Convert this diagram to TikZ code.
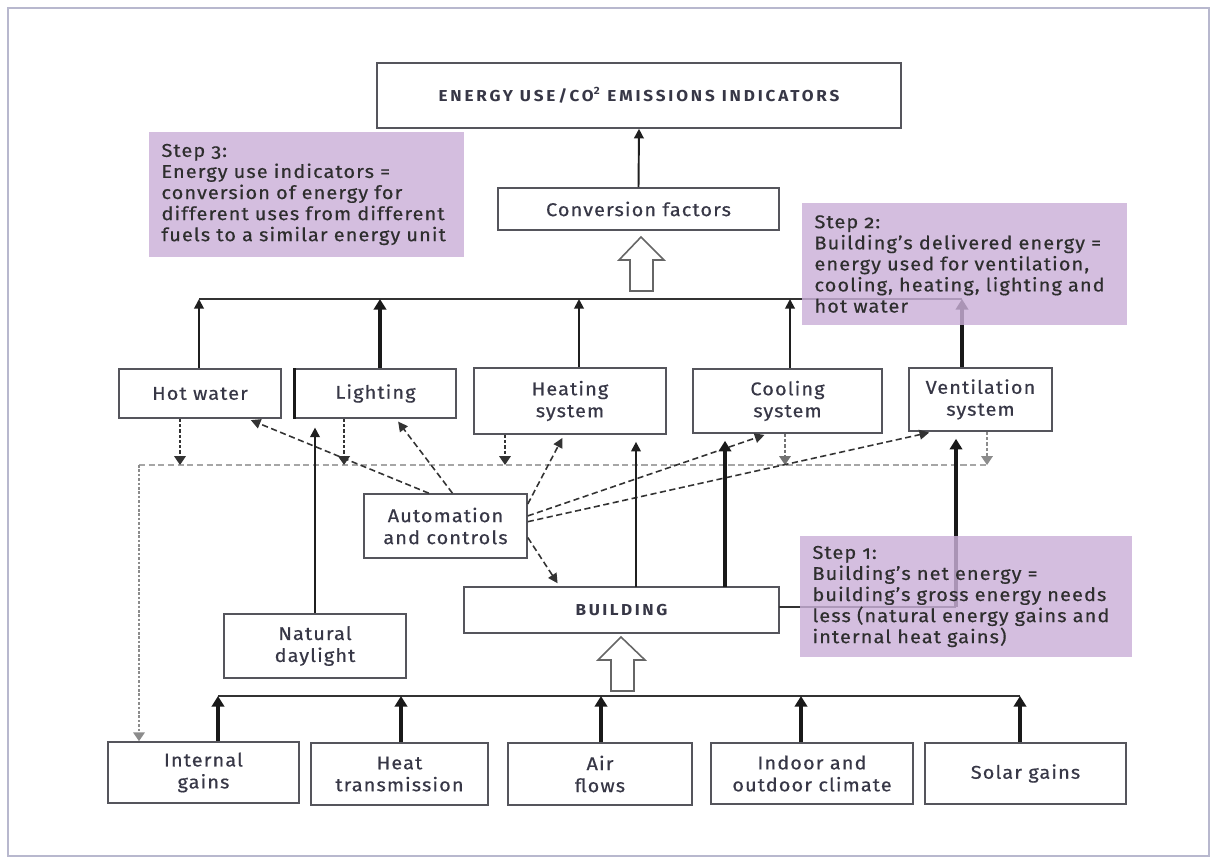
\documentclass[tikz,border=0pt]{standalone}
\usepackage{fontspec}
\setmainfont{Fira Sans}[LetterSpace=6,FakeStretch=1.08,UprightFeatures={FakeBold=0.5}]
\usetikzlibrary{arrows.meta}
\definecolor{stepc}{RGB}{202,176,216}
\definecolor{boxline}{RGB}{85,85,92}
\definecolor{txt}{RGB}{55,55,70}
\definecolor{framec}{RGB}{184,184,206}
\newcommand\boxnode[7][]{\node[box,#1,minimum width={(#5-#3)*0.02cm},minimum height={(#6-#4)*0.02cm}] (#2) at ({(#3+#5)/2},{(#4+#6)/2}) {#7};}
\newcommand\stepnode[6]{\node[stepbox,minimum width={(#4-#2)*0.02cm},minimum height={(#5-#3)*0.02cm},text width={(#4-#2)*0.02cm-0.5cm}] (#1) at ({(#2+#4)/2},{(#3+#5)/2}) {#6};}
\begin{document}
\begin{tikzpicture}[x=0.02cm,y=-0.02cm,
  box/.style={draw=boxline,line width=0.9pt,fill=white,inner sep=1pt,align=center,text=txt,font=\fontsize{10.5}{12.5}\selectfont},
  stepbox/.style={fill=stepc,fill opacity=0.82,text opacity=1,inner xsep=0.25cm,inner ysep=0pt,align=left,text=black!82,font=\fontsize{10.5}{12}\selectfont\addfontfeatures{Numbers=OldStyle}},
  arr/.style={-{Triangle[length=5.5pt,width=5.5pt]},line width=1.1pt,draw=black!88},
  tarr/.style={-{Triangle[length=6pt,width=7pt]},line width=2.6pt,draw=black!90},
  bus/.style={line width=1.1pt,draw=black!80},
  dotarr/.style={-{Triangle[length=5pt,width=6.5pt]},line width=0.9pt,dash pattern=on 1.8pt off 1.2pt,draw=black!80},
  autoarr/.style={-{Triangle[length=5.5pt,width=5.5pt]},line width=0.9pt,dash pattern=on 3.5pt off 2pt,draw=black!80,shorten >=2pt},
  graydash/.style={line width=1pt,dash pattern=on 3.5pt off 2pt,draw=black!35},
  graydot/.style={-{Triangle[length=5pt,width=6.5pt]},line width=0.9pt,dash pattern=on 1.5pt off 1pt,draw=black!45},
  hollow/.style={draw=black!60,line width=0.9pt,fill=white}]
\useasboundingbox (0,0) rectangle (1219,859);
\draw[framec,line width=1.2pt] (8,8) rectangle (1209,856);

% boxes
\boxnode{top}{377}{63}{901}{128}{\fontsize{9}{10}\selectfont\bfseries\addfontfeatures{LetterSpace=18}ENERGY USE/CO\textsuperscript{2} EMISSIONS INDICATORS}
\boxnode{conv}{498}{188}{779}{230}{Conversion factors}
\boxnode{hot}{119}{369}{281}{418}{Hot water}
\boxnode{light}{295}{369}{456}{418}{Lighting}
\boxnode{heat}{474}{368}{666}{434}{Heating\\system}
\boxnode{cool}{693}{369}{882}{433}{Cooling\\system}
\boxnode{vent}{909}{368}{1052}{431}{Ventilation\\system}
\boxnode{auto}{364}{494}{527}{558}{Automation\\and controls}
\boxnode{bld}{464}{587}{779}{633}{\fontsize{9}{10}\selectfont\bfseries\addfontfeatures{LetterSpace=16}BUILDING}
\boxnode{nat}{224}{614}{406}{678}{Natural\\daylight}
\boxnode{intg}{108}{742}{299}{803}{Internal\\gains}
\boxnode{heatt}{311}{743}{488}{805}{Heat\\transmission}
\boxnode{air}{508}{743}{692}{805}{Air\\flows}
\boxnode{indoor}{711}{743}{913}{804}{Indoor and\\outdoor climate}
\boxnode{solar}{925}{743}{1126}{804}{Solar gains}
\draw[line width=1.8pt,black!90] (light.north west) -- (light.south west);

% top part
\draw[arr] (conv.north) -- (top.south);
\draw[hollow] (630,291) -- (630,260) -- (619,260) -- (641,237) -- (664,260) -- (653,260) -- (653,291) -- cycle;
\coordinate (tb1) at (199,299);
\coordinate (tb2) at (380,299);
\coordinate (tb3) at (579,299);
\coordinate (tb4) at (790,299);
\coordinate (tb5) at (962,299);
\draw[bus] (tb1) -- (tb5);
\draw[arr] (hot.north -| tb1) -- (tb1);
\draw[tarr] (light.north -| tb2) -- (tb2);
\draw[arr] (heat.north -| tb3) -- (tb3);
\draw[arr] (cool.north -| tb4) -- (tb4);
\draw[tarr] (vent.north -| tb5) -- (tb5);

% dashed control line
\coordinate (dL) at (139,465);
\coordinate (dR) at (987,465);
\draw[graydash] (dL) -- (dR);
\draw[graydot] (dL) -- (dL |- intg.north);
\coordinate (d1) at (180,465);
\coordinate (d2) at (344,465);
\coordinate (d3) at (505,465);
\coordinate (d4) at (785,465);
\coordinate (d5) at (987,465);
\draw[dotarr] (hot.south -| d1) -- (d1);
\draw[dotarr,line width=1.5pt] (light.south -| d2) -- (d2);
\draw[dotarr] (heat.south -| d3) -- (d3);
\draw[dotarr,draw=black!55] (cool.south -| d4) -- (d4);
\draw[dotarr,draw=black!45] (vent.south -| d5) -- (d5);

% automation arrows
\draw[autoarr] (auto.117) -- (hot.-28);
\draw[autoarr] (auto.78) -- (light.-51);
\draw[autoarr] (auto.15) -- (heat.-100);
\draw[autoarr] (auto.7) -- (cool.-121);
\draw[autoarr] (auto.3) -- (vent.-146);
\draw[autoarr] (auto.-8) -- (bld.159);

% building and daylight
\draw[arr,shorten >=5pt] (nat.north) -- (nat.north |- light.south);
\coordinate (bh) at (636,587);
\coordinate (bc) at (725,587);
\coordinate (bvA) at (779,607);
\coordinate (bvB) at (956,607);
\draw[arr,shorten >=4pt] (bh) -- (bh |- heat.south);
\draw[tarr,shorten >=4pt] (bc) -- (bc |- cool.south);
\draw[bus] (bvA) -- (bvB);
\draw[tarr,shorten >=4pt] (bvB) -- (bvB |- vent.south);

% bottom part
\draw[hollow] (611,691) -- (611,660) -- (598,660) -- (621,637) -- (645,660) -- (634,660) -- (634,691) -- cycle;
\coordinate (bb1) at (218,696);
\coordinate (bb2) at (401,696);
\coordinate (bb3) at (601,696);
\coordinate (bb4) at (801,696);
\coordinate (bb5) at (1020,696);
\draw[bus] (bb1) -- (bb5);
\draw[tarr] (intg.north -| bb1) -- (bb1);
\draw[tarr] (heatt.north -| bb2) -- (bb2);
\draw[tarr] (air.north -| bb3) -- (bb3);
\draw[tarr] (indoor.north -| bb4) -- (bb4);
\draw[tarr] (solar.north -| bb5) -- (bb5);

% step boxes
\stepnode{step3}{149}{132}{464}{257}{Step 3:\\Energy use indicators =\\conversion of energy for\\different uses from different\\fuels to a similar energy unit}
\stepnode{step2}{802}{203}{1127}{325}{Step 2:\\Building’s delivered energy =\\energy used for ventilation,\\cooling, heating, lighting and\\hot water}
\stepnode{step1}{800}{536}{1132}{657}{Step 1:\\Building’s net energy =\\building’s gross energy needs\\less (natural energy gains and\\internal heat gains)}
\end{tikzpicture}
\end{document}
